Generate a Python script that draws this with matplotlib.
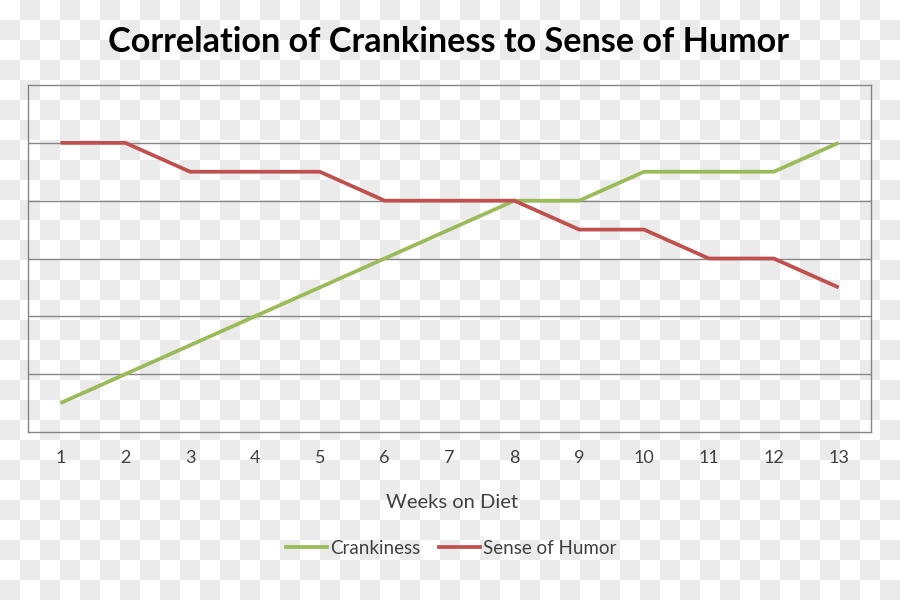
import numpy as np
import matplotlib
matplotlib.use("Agg")
import matplotlib.pyplot as plt
from matplotlib.lines import Line2D

weeks = list(range(1, 14))
crankiness = [0.5, 1, 1.5, 2, 2.5, 3, 3.5, 4, 4, 4.5, 4.5, 4.5, 5]
sense_of_humor = [5, 5, 4.5, 4.5, 4.5, 4, 4, 4, 3.5, 3.5, 3, 3, 2.5]
tick_labels = [str(w) for w in weeks]

plt.rcParams['font.family'] = ['Lato', 'DejaVu Sans']

fig = plt.figure(figsize=(9, 6), dpi=100)

# checkered background
bg = fig.add_axes([0, 0, 1, 1], zorder=-10)
nx, ny = 45, 30
checker = (np.add.outer(np.arange(ny), np.arange(nx)) % 2).astype(float)
bg.imshow(checker, cmap=matplotlib.colors.ListedColormap(['#ffffff', '#ebebeb']),
          extent=[0, 900, 600, 0], interpolation='nearest', aspect='auto')
bg.set_xlim(0, 900)
bg.set_ylim(600, 0)
bg.axis('off')

ax = fig.add_axes([28/900, 1-432/600, 843/900, 347/600])
ax.patch.set_alpha(0)
ax.plot(weeks, crankiness, color='#9bbb59', lw=2.7, label='Crankiness', solid_capstyle='butt')
ax.plot(weeks, sense_of_humor, color='#c0504d', lw=2.7, label='Sense of Humor', solid_capstyle='butt')
ax.set_xlim(0.5, 13.5)
ax.set_ylim(0, 6)
ax.set_yticks([1, 2, 3, 4, 5])
ax.yaxis.grid(True, color='#868686', lw=1)
ax.set_axisbelow(True)
ax.tick_params(axis='y', left=False, labelleft=False)
ax.set_xticks(weeks)
ax.set_xticklabels(tick_labels, fontsize=13, color='#404040')
ax.tick_params(axis='x', length=0, pad=13)
for s in ax.spines.values():
    s.set_color('#868686')
    s.set_linewidth(1)

fig.text(449/900, 1-42/600, 'Correlation of Crankiness to Sense of Humor',
         ha='center', va='center', fontsize=24.6, fontweight='bold', color='black')
fig.text(452/900, 1-503/600, 'Weeks on Diet', ha='center', va='center',
         fontsize=14.5, color='#404040')

handles = [Line2D([], [], color='#9bbb59', lw=2.7), Line2D([], [], color='#c0504d', lw=2.7)]
fig.legend(handles, ['Crankiness', 'Sense of Humor'], loc='center',
           bbox_to_anchor=(451/900, 1-548/600), ncol=2, frameon=False,
           fontsize=13.5, handlelength=2.2, handletextpad=0.15, columnspacing=1.0,
           labelcolor='#404040')

fig.savefig('out.png', dpi=100)
